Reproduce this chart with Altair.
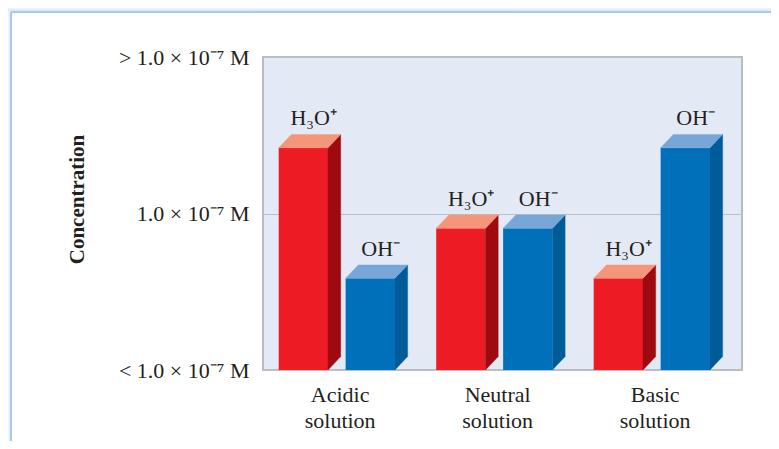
import altair as alt
import pandas as pd

# ---- data ----
label_lines = [["Acidic", "solution"], ["Neutral", "solution"], ["Basic", "solution"]]
ions = ["H₃O⁺", "OH⁻"]
h3o_values = [1.42, 0.905, 0.586]
oh_values = [0.586, 0.905, 1.42]
y_tick_values = [0, 1, 2]
y_tick_labels = ["< 1.0 × 10⁻⁷ M", "1.0 × 10⁻⁷ M", "> 1.0 × 10⁻⁷ M"]

# ---- geometry (group units) and styling ----
BAR_W = 0.313
OFFSETS = [0.0, 0.425]
DX = 0.0806
DY = 0.0855
LABEL_OFF = 0.387
X_DOMAIN = [-0.0997, 2.9416]
Y_DOMAIN = [0, 2]

front_col = ["#ED1C24", "#0070BA"]
side_col = ["#9E0A0F", "#005C99"]
top_col = ["#F5967A", "#78A6D8"]
FONT = "Liberation Serif"
TXT = "#231F20"

fronts, faces, labels = [], [], []
for g in range(3):
    for k, vals in enumerate([h3o_values, oh_values]):
        v = vals[g]
        xl = g + OFFSETS[k]
        xr = xl + BAR_W
        fronts.append({"x": xl, "x2": xr, "y": 0, "y2": v, "fill": front_col[k]})
        fid = f"s{g}{k}"
        faces += [
            {"face": fid, "x": xr, "hi": v, "lo": 0, "fill": side_col[k]},
            {"face": fid, "x": xr + DX, "hi": v + DY, "lo": DY, "fill": side_col[k]},
        ]
        fid = f"t{g}{k}"
        faces += [
            {"face": fid, "x": xl, "hi": v, "lo": v, "fill": top_col[k]},
            {"face": fid, "x": xl + DX, "hi": v + DY, "lo": v, "fill": top_col[k]},
            {"face": fid, "x": xr, "hi": v + DY, "lo": v, "fill": top_col[k]},
            {"face": fid, "x": xr + DX, "hi": v + DY, "lo": v + DY, "fill": top_col[k]},
        ]
        labels.append({"x": xl + (BAR_W + DX) / 2, "y": v + DY, "text": ions[k]})

fronts = pd.DataFrame(fronts)
faces = pd.DataFrame(faces)
labels = pd.DataFrame(labels)

# label expressions built from the lists
def arr(lines):
    return "[" + ",".join("'" + s + "'" for s in lines) + "]"

x_expr = (f"datum.value < 1 ? {arr(label_lines[0])} : "
          f"(datum.value < 2 ? {arr(label_lines[1])} : {arr(label_lines[2])})")
y_expr = (f"datum.value < 0.5 ? '{y_tick_labels[0]}' : "
          f"(datum.value < 1.5 ? '{y_tick_labels[1]}' : '{y_tick_labels[2]}')")

xs = alt.Scale(domain=X_DOMAIN, nice=False, zero=False)
ys = alt.Scale(domain=Y_DOMAIN, nice=False)

x_axis = alt.Axis(values=[g + LABEL_OFF for g in range(3)], labelExpr=x_expr,
                  grid=False, domain=False, ticks=False, tickSize=0,
                  labelPadding=31, labelBaseline="alphabetic", labelLineHeight=26,
                  labelFont=FONT, labelFontSize=22, labelColor=TXT,
                  labelFlush=False, labelOverlap=False, title=None)
y_axis = alt.Axis(values=y_tick_values, labelExpr=y_expr, grid=True,
                  gridColor="#BAC0C8", gridWidth=1, domain=False, ticks=False,
                  tickSize=0, labelPadding=14, labelFont=FONT, labelFontSize=22,
                  labelColor=TXT, labelOverlap=False, labelFlush=False,
                  title="Concentration", titleFont=FONT, titleFontSize=21,
                  titleFontWeight="bold", titleColor=TXT, titleAngle=270,
                  titleBaseline="alphabetic", titleX=-180, titleY=142)

front_layer = alt.Chart(fronts).mark_rect().encode(
    x=alt.X("x:Q", scale=xs, axis=x_axis),
    x2="x2:Q",
    y=alt.Y("y:Q", scale=ys, axis=y_axis),
    y2="y2:Q",
    fill=alt.Fill("fill:N", scale=None),
)

face_layer = alt.Chart(faces).mark_area(orient="vertical", strokeWidth=0.4).encode(
    x=alt.X("x:Q", scale=xs),
    y=alt.Y("hi:Q", scale=ys),
    y2="lo:Q",
    detail="face:N",
    fill=alt.Fill("fill:N", scale=None),
    stroke=alt.Stroke("fill:N", scale=None),
)

text_layer = alt.Chart(labels).mark_text(
    font=FONT, fontSize=22, color=TXT, align="center", baseline="alphabetic",
    dx=4, dy=-9
).encode(
    x=alt.X("x:Q", scale=xs),
    y=alt.Y("y:Q", scale=ys),
    text="text:N",
)

# decorative page frame (light blue border at top-left of the figure)
top_band = alt.Chart(fronts).mark_rect(
    fill=alt.LinearGradient(gradient="linear",
                            stops=[alt.GradientStop(color="#F4F7FB", offset=0),
                                   alt.GradientStop(color="#D8E4F2", offset=1)],
                            x1=0, x2=0, y1=0, y2=1)
).encode(x=alt.value(-255), x2=alt.value(520), y=alt.value(-49), y2=alt.value(-46))
left_band = alt.Chart(fronts).mark_rect(
    fill=alt.LinearGradient(gradient="linear",
                            stops=[alt.GradientStop(color="#F4F7FB", offset=0),
                                   alt.GradientStop(color="#D8E4F2", offset=1)],
                            x1=0, x2=1, y1=0, y2=0)
).encode(x=alt.value(-255), x2=alt.value(-252), y=alt.value(-46), y2=alt.value(400))
top_line = alt.Chart(fronts).mark_rule(color="#A8CBEA", strokeWidth=2).encode(
    x=alt.value(-252), x2=alt.value(520), y=alt.value(-45))
left_line = alt.Chart(fronts).mark_rule(color="#A8CBEA", strokeWidth=2).encode(
    x=alt.value(-252), y=alt.value(-45), y2=alt.value(400))

chart = alt.layer(
    front_layer, face_layer, text_layer, top_band, left_band, top_line, left_line
).properties(
    width=479, height=313,
    autosize=alt.AutoSizeParams(type="none"),
    padding={"left": 255, "top": 49, "right": 29, "bottom": 71},
    background="white",
).configure_view(
    fill="#E3EAF5", stroke="#B8BDC4", strokeWidth=2
)

chart.save("out.html", embed_options={"renderer": "svg", "actions": False})
